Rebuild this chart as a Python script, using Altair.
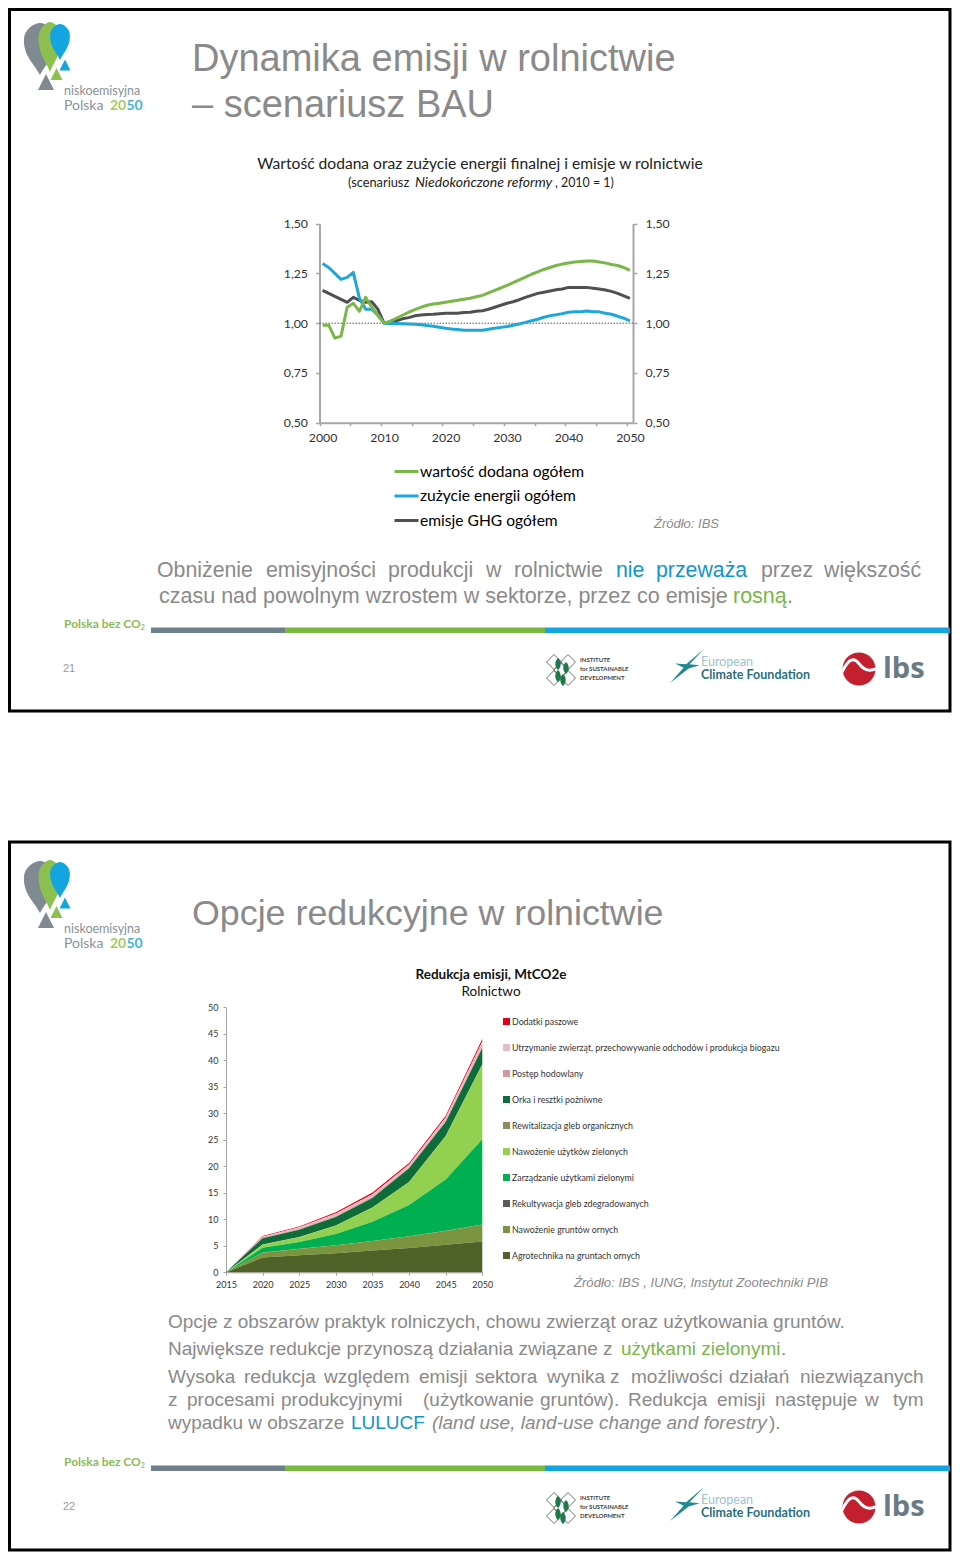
import altair as alt
import pandas as pd

SANS = "Liberation Sans"
CAL = "Lato"
GRAY = "#8a8a8a"
AX = "#a6a6a6"
W = 944
H = 1546

YEARS = list(range(2000, 2051))
VALUE_ADDED = [0.99,0.99,0.925,0.935,1.08,1.10,1.06,1.13,1.08,1.04,1.0,
 1.01,1.025,1.04,1.055,1.068,1.08,1.09,1.096,1.10,1.105,1.11,1.115,1.12,1.125,1.133,1.14,1.152,1.165,1.177,1.19,
 1.204,1.218,1.232,1.246,1.258,1.27,1.28,1.29,1.297,1.303,1.307,1.31,1.312,1.312,1.308,1.303,1.295,1.29,1.28,1.265]
ENERGY = [1.30,1.28,1.25,1.22,1.23,1.255,1.125,1.07,1.07,1.04,1.0,
 0.999,0.998,0.997,0.996,0.995,0.992,0.988,0.985,0.98,0.975,0.971,0.968,0.965,0.965,0.965,0.965,0.97,0.975,0.979,0.983,
 0.99,0.996,1.004,1.012,1.02,1.03,1.037,1.042,1.048,1.055,1.058,1.058,1.061,1.058,1.057,1.05,1.045,1.035,1.025,1.012]
GHG = [1.165,1.15,1.135,1.12,1.105,1.13,1.115,1.105,1.108,1.07,1.0,
 1.002,1.012,1.022,1.028,1.037,1.041,1.044,1.045,1.048,1.05,1.05,1.05,1.054,1.055,1.06,1.063,1.07,1.08,1.09,1.10,
 1.108,1.118,1.13,1.14,1.15,1.156,1.162,1.168,1.172,1.18,1.18,1.18,1.18,1.176,1.172,1.167,1.16,1.15,1.137,1.125]
LINE_NAMES = ["wartość dodana ogółem", "zużycie energii ogółem", "emisje GHG ogółem"]
LINE_COLORS = ["#7ab648", "#1ea7d8", "#505050"]
X1_LABELS = [2000, 2010, 2020, 2030, 2040, 2050]
X1_TICKS = [1999.5 + 5 * i for i in range(11)]
Y1_TICKS = [0.5, 0.75, 1.0, 1.25, 1.5]

YEARS2 = [2015, 2020, 2025, 2030, 2035, 2040, 2045, 2050]
STACK_NAMES = ["Dodatki paszowe",
 "Utrzymanie zwierząt, przechowywanie odchodów  i produkcja biogazu",
 "Postęp hodowlany", "Orka i resztki pożniwne", "Rewitalizacja gleb organicznych",
 "Nawożenie użytków zielonych", "Zarządzanie użytkami zielonymi",
 "Rekultywacja gleb zdegradowanych", "Nawożenie gruntów ornych", "Agrotechnika na gruntach ornych"]
STACK_COLORS = ["#e3001b", "#e6bcc2", "#d39a9e", "#0e6b3a", "#8e8d5f", "#92d050", "#00b050", "#595959", "#7a9440", "#4f6228"]
DODATKI = [0, .12, .15, .25, .3, .3, .35, .5]
UTRZYMANIE = [0, .2, .3, .45, .5, .5, .6, .9]
POSTEP = [0, .08, .15, .2, .2, .2, .25, .3]
ORKA = [0, 1.2, 1.4, 1.6, 1.8, 2.6, 2.6, 3.1]
REWIT = [0, .02, .02, .02, .02, .02, .02, .02]
NAW_UZ = [0, .6, .9, 1.6, 2.7, 4.3, 8.2, 14.1]
ZARZ = [0, .9, 1.3, 2.1, 3.6, 5.9, 9.7, 16.1]
REKULT = [0, .02, .02, .02, .02, .02, .02, .02]
NAW_GR = [0, .9, 1.2, 1.5, 1.8, 2.2, 2.6, 3.2]
AGRO = [0, 2.8, 3.2, 3.6, 4.1, 4.6, 5.2, 5.8]
STACK_VALUES = [DODATKI, UTRZYMANIE, POSTEP, ORKA, REWIT, NAW_UZ, ZARZ, REKULT, NAW_GR, AGRO]
Y2_TICKS = list(range(0, 55, 5))


def drop(k):
    a, b = round(0.36 * k, 3), k
    return f"M0,1 C{-a},0.55 {-b},0.3 {-b},-0.35 C{-b},-0.75 {-a},-1 0,-1 C{a},-1 {b},-0.75 {b},-0.35 C{b},0.3 {a},0.55 0,1 Z"


TRIANGLE = "M0,-1 L1,1 L-1,1 Z"
STAR = "M1,-1 L0.15,-0.1 L0.75,-0.05 L0.1,0.15 L-1,1 L-0.2,0.1 L-0.7,-0.15 L-0.05,-0.1 Z"
WAVE = "M-1,0.3 C-0.6,-0.5 -0.3,-0.6 0,-0.2 C0.3,0.2 0.6,0.3 1,0.1"
LEAF = "M0,-1 C0.6,-0.5 0.6,0.5 0,1 C-0.6,0.5 -0.6,-0.5 0,-1 Z"


def T(x, y, s, size, color=GRAY, font=SANS, align="left", weight="normal", style="normal"):
    return alt.Chart(alt.Data(values=[{"s": s}])).mark_text(
        font=font, fontSize=size, color=color, align=align, baseline="middle",
        fontWeight=weight, fontStyle=style
    ).encode(x=alt.value(x - 8), y=alt.value(y - 7), text="s:N")


def R(x0, x1, y0, y1, color):
    return alt.Chart(alt.Data(values=[{}])).mark_rect(color=color).encode(
        x=alt.value(x0 - 8), x2=alt.value(x1 - 8), y=alt.value(y0 - 8), y2=alt.value(y1 - 8))


def S(x, y, shape, px, color, stroke=None, width=1):
    if stroke:
        m = alt.Chart(alt.Data(values=[{}])).mark_point(shape=shape, size=px * px, stroke=stroke,
                                                       strokeWidth=width, opacity=1)
    else:
        m = alt.Chart(alt.Data(values=[{}])).mark_point(shape=shape, size=px * px, fill=color, filled=True,
                                                       stroke=color, strokeWidth=0, opacity=1)
    return m.encode(x=alt.value(x - 8), y=alt.value(y - 8))


def frame(y0, y1):
    return alt.Chart(alt.Data(values=[{}])).mark_rect(fillOpacity=0, stroke="black", strokeWidth=3).encode(
        x=alt.value(1.5), x2=alt.value(942), y=alt.value(y0), y2=alt.value(y1))


def decor(d, page):
    out = [
        S(40, 49 + d, drop(0.62), 52, "#7f8a93"),
        S(46, 82 + d, TRIANGLE, 16, "#7f8a93"),
        S(50, 47 + d, drop(0.46), 50, "#8cc04f"),
        S(56.5, 74 + d, TRIANGLE, 12, "#8cc04f"),
        S(60, 42 + d, drop(0.55), 36, "#12a5e0"),
        S(65, 65 + d, TRIANGLE, 11, "#12a5e0"),
        T(64, 90 + d, "niskoemisyjna", 12.5, "#8a9299", CAL),
        T(64, 105 + d, "Polska", 14, "#8a9299", CAL),
        T(110, 105 + d, "20", 14, "#a9c95e", CAL, weight="bold"),
        T(126.5, 105 + d, "50", 14, "#3fb4d8", CAL, weight="bold"),
        T(64, 623 + d, "Polska bez CO", 12, "#8cbb55", CAL, weight="bold"),
        T(141, 627 + d, "2", 6.5, "#8cbb55", CAL, weight="bold"),
        R(151, 285, 627.5 + d, 633 + d, "#6f7f8c"),
        R(285, 545, 627.5 + d, 633 + d, "#7ab93f"),
        R(545, 950, 627.5 + d, 633 + d, "#12a5e0"),
        T(63, 668 + d, page, 11, "#9a9a9a"),
    ]
    for (lx, ly) in [(554, 662), (568, 662), (561, 670), (554, 678), (568, 678)]:
        out.append(S(lx, ly + d, "diamond", 15, None, stroke="#4a4a4a", width=0.8))
    for (lx, ly) in [(558, 664), (566, 668), (558, 676), (563, 680)]:
        out.append(S(lx, ly + d, LEAF, 12, "#1f7a4a"))
    out += [
        T(580, 659 + d, "INSTITUTE", 6, "#444444", CAL, weight="bold"),
        T(580, 668 + d, "for SUSTAINABLE", 6, "#444444", CAL, weight="bold"),
        T(580, 677 + d, "DEVELOPMENT", 6, "#444444", CAL, weight="bold"),
        S(687, 666 + d, STAR, 34, "#1f8a8f"),
        T(701, 660.5 + d, "European", 12.5, "#9cc3cf", CAL),
        T(701, 673.5 + d, "Climate Foundation", 12.5, "#2c6f7d", CAL, weight="bold"),
        S(859, 669 + d, "circle", 33, "#c2202f"),
        S(859, 667 + d, WAVE, 34, None, stroke="white", width=3),
        T(883, 668 + d, "lbs", 29, "#6b7b85", "Open Sans", weight="bold"),
    ]
    return out


def comma(e="datum.value"):
    return f"replace(format({e},'.2f'),'.',',')"


# ---------- chart 1 ----------
X1 = alt.Scale(domain=[1999.5, 2050.5], range=[311.5, 625])
Y1 = alt.Scale(domain=[0.5, 1.5], range=[414.7, 215.7])
rows = []
for name, vals in [(LINE_NAMES[2], GHG), (LINE_NAMES[1], ENERGY), (LINE_NAMES[0], VALUE_ADDED)]:
    rows += [{"rok": y, "v": v, "s": name} for y, v in zip(YEARS, vals)]
df1 = pd.DataFrame(rows)

ax_common = dict(domainColor=AX, domainWidth=2, tickColor=AX, tickWidth=1.5, grid=False, title=None, labelFlush=False,
                 labelFont=CAL, labelColor="#333333", labelFontSize=12.3)
ticks1 = alt.Chart(df1).mark_line(opacity=0).encode(
    x=alt.X("rok:Q", scale=X1, axis=alt.Axis(orient="bottom", values=X1_TICKS, labels=False, tickSize=3,
                                              offset=-(H - 414.7), **ax_common)),
    y=alt.Y("v:Q", scale=Y1, axis=alt.Axis(orient="right", values=Y1_TICKS, tickSize=4, labelExpr=comma(), labelPadding=8,
                                            offset=-(W - 625), **ax_common)),
    detail="s:N")
dotted = alt.Chart(alt.Data(values=[{"v": 1.0}])).mark_rule(color="#555555", strokeDash=[1.5, 1.5], strokeWidth=1).encode(
    x=alt.value(311.5), x2=alt.value(625), y=alt.Y("v:Q", scale=Y1, axis=None))
lines1 = alt.Chart(df1).mark_line(strokeWidth=3, strokeJoin="round").encode(
    x=alt.X("rok:Q", scale=X1, axis=alt.Axis(orient="bottom", values=X1_LABELS, format="d", tickSize=0, labelPadding=9,
                                              domain=False, labelOverlap=False, offset=-(H - 414.7), **ax_common)),
    y=alt.Y("v:Q", scale=Y1, axis=alt.Axis(orient="left", values=Y1_TICKS, tickSize=4, labelExpr=comma(), labelPadding=8,
                                            offset=-311.5, **ax_common)),
    color=alt.Color("s:N", scale=alt.Scale(domain=LINE_NAMES, range=LINE_COLORS),
                    legend=alt.Legend(orient="none", legendX=385, legendY=450, title=None, symbolType="stroke",
                                      symbolSize=576, symbolStrokeWidth=3, labelFont=CAL, labelFontSize=15.6,
                                      labelColor="black", labelOffset=0, rowPadding=1.5, labelLimit=300)),
    detail="s:N")

# ---------- chart 2 ----------
X2 = alt.Scale(domain=[2015, 2050], range=[218, 474.3])
Y2 = alt.Scale(domain=[0, 50], range=[1264.3, 999.3])
rows = []
for i, (name, vals) in enumerate(zip(STACK_NAMES, STACK_VALUES)):
    rows += [{"rok": y, "v": v, "s": name, "o": 9 - i} for y, v in zip(YEARS2, vals)]
df2 = pd.DataFrame(rows)
ax2 = dict(domainColor=AX, domainWidth=1, tickColor=AX, tickWidth=1, grid=False, title=None, tickSize=3, labelFlush=False,
           labelFont=CAL, labelColor="#333333", labelFontSize=9)
area2 = alt.Chart(df2).mark_area(line=False).encode(
    x=alt.X("rok:Q", scale=X2, axis=alt.Axis(orient="bottom", values=YEARS2, format="d", labelOverlap=False, labelPadding=5,
                                              offset=-(H - 1264.3), **ax2)),
    y=alt.Y("v:Q", stack="zero", scale=Y2, axis=alt.Axis(values=Y2_TICKS, orient="left", labelOverlap=False, labelPadding=5,
                                                          offset=-218, **ax2)),
    color=alt.Color("s:N", scale=alt.Scale(domain=STACK_NAMES, range=STACK_COLORS),
                    legend=alt.Legend(orient="none", legendX=494, legendY=1009, title=None, symbolType="square",
                                      symbolSize=49, labelFont=CAL, labelFontSize=8.8, labelColor="#333333",
                                      labelOffset=1, rowPadding=16, labelLimit=400)),
    order=alt.Order("o:Q"))

texts = [
    T(192, 59, "Dynamika emisji w rolnictwie", 38),
    T(192, 105, "– scenariusz BAU", 38),
    T(480, 163, "Wartość dodana oraz zużycie energii finalnej i emisje w rolnictwie", 15.6, "#222222", CAL, align="center"),
    T(348, 182, "(scenariusz", 12.8, "#222222", CAL),
    T(415, 182, "Niedokończone reformy", 14, "#222222", CAL, style="italic"),
    T(555, 182, ", 2010 = 1)", 12.4, "#222222", CAL),
    T(654, 523, "Źródło: IBS", 13, GRAY, style="italic"),
]
for x, w in [(157, "Obniżenie"), (266, "emisyjności"), (388, "produkcji"), (486, "w"), (514, "rolnictwie")]:
    texts.append(T(x, 570, w, 21.3))
texts += [T(616, 570, "nie", 21.3, "#1295c9"), T(656, 570, "przeważa", 21.3, "#1295c9"),
          T(761, 570, "przez", 21.3), T(824, 570, "większość", 21.3),
          T(159, 596, "czasu nad powolnym wzrostem w sektorze, przez co emisje", 21.5),
          T(733, 596, "rosną", 21.5, "#7ab648"), T(787, 596, ".", 21.5)]
texts += [
    T(192, 913, "Opcje redukcyjne w rolnictwie", 35.8),
    T(491, 974, "Redukcja emisji, MtCO2e", 13.5, "#111111", CAL, align="center", weight="bold"),
    T(491, 991, "Rolnictwo", 13.5, "#111111", CAL, align="center"),
    T(574, 1282, "Źródło: IBS , IUNG, Instytut Zootechniki PIB", 13.1, GRAY, style="italic"),
    T(168, 1321, "Opcje z obszarów praktyk rolniczych, chowu zwierząt oraz użytkowania gruntów.", 19),
    T(168, 1348, "Największe redukcje przynoszą działania związane z", 19),
    T(621, 1348, "użytkami zielonymi", 19, "#7ab648"),
    T(781, 1348, ".", 19),
]
for x, w in [(168, "Wysoka"), (244, "redukcja"), (324, "względem"), (419, "emisji"), (475, "sektora"), (547, "wynika"),
             (610, "z"), (631, "możliwości"), (729, "działań"), (800, "niezwiązanych")]:
    texts.append(T(x, 1376, w, 19))
for x, w in [(168, "z"), (187, "procesami"), (281, "produkcyjnymi"), (423, "(użytkowanie"), (540, "gruntów)."),
             (628, "Redukcja"), (717, "emisji"), (775, "następuje"), (865, "w"), (893, "tym")]:
    texts.append(T(x, 1399, w, 19))
texts += [
    T(168, 1422, "wypadku w obszarze", 19),
    T(351, 1422, "LULUCF", 19, "#1295c9"),
    T(432, 1422, "(land use, land-use change and forestry", 19, style="italic"),
    T(769, 1422, ").", 19),
]

layers = [frame(1.5, 703), frame(834, 1542)] + decor(0, "21") + decor(838, "22") + texts + [ticks1, dotted, lines1, area2]

chart = alt.layer(*layers).resolve_scale(x="independent", y="independent", color="independent").resolve_axis(
    x="independent", y="independent").resolve_legend(color="independent").properties(
    width=W, height=H, padding=0, autosize=alt.AutoSizeParams(type="none"), background="white"
).configure_view(stroke=None)

chart.save("out.html", embed_options={"renderer": "svg", "actions": False})
